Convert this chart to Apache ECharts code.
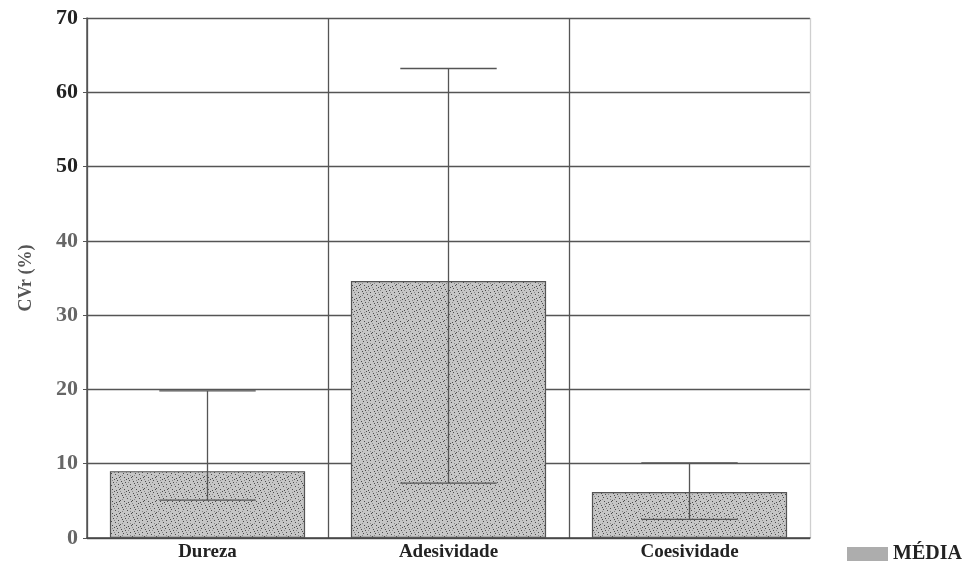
<!DOCTYPE html>
<html>
<head>
<meta charset="utf-8">
<script src="https://cdn.jsdelivr.net/npm/echarts@6/dist/echarts.min.js"></script>
<style>html,body{margin:0;padding:0;background:#fff}#c{width:967px;height:568px}</style>
</head>
<body>
<div id="c"></div>
<script>
const categories = ['Dureza', 'Adesividade', 'Coesividade'];
const media = [9.0, 34.6, 6.2];
const errLow = [5.1, 7.4, 2.5];
const errHigh = [19.8, 63.2, 10.1];
const yTicks = [0, 10, 20, 30, 40, 50, 60, 70];

// speckled fill texture (fixed tile)
function makeTexture() {
  const c = document.createElement('canvas');
  c.width = 12; c.height = 12;
  const g = c.getContext('2d');
  g.fillStyle = '#c6c6c6';
  g.fillRect(0, 0, 12, 12);
  const dots = [[1,1],[5,2],[9,0],[3,5],[7,6],[10,4],[0,8],[4,9],[8,10],[11,9],[6,11],[2,3]];
  g.fillStyle = '#4a4a4a';
  dots.forEach(p => g.fillRect(p[0], p[1], 1, 1));
  g.fillStyle = '#8a8a8a';
  [[2,7],[6,4],[10,7],[4,0],[8,2],[0,11]].forEach(p => g.fillRect(p[0], p[1], 1, 1));
  return c;
}

const chart = echarts.init(document.getElementById('c'));
const serif = '"Liberation Serif", "DejaVu Serif", serif';
chart.setOption({
  animation: false,
  backgroundColor: '#fff',
  grid: { left: 87, right: 157, top: 18, bottom: 30 },
  legend: {
    data: [{ name: 'MÉDIA', itemStyle: { color: '#adadad', borderWidth: 0 } }],
    left: 842, top: 539,
    icon: 'rect', itemWidth: 41, itemHeight: 14, itemGap: 8,
    textStyle: { fontFamily: serif, fontWeight: 'bold', fontSize: 20, color: '#222' }
  },
  xAxis: {
    type: 'category',
    data: categories,
    boundaryGap: true,
    axisLine: { lineStyle: { color: '#444', width: 1.5 } },
    axisTick: { show: false },
    splitLine: { show: true, lineStyle: { color: ['#555', '#555', '#555', '#cfcfcf'], width: 1.3 } },
    axisLabel: { fontFamily: serif, fontWeight: 'bold', fontSize: 19, color: '#222', margin: 5 }
  },
  yAxis: {
    type: 'value', min: 0, max: 70, interval: 10,
    name: 'CVr (%)', nameLocation: 'middle', nameGap: 52, nameRotate: 90,
    nameTextStyle: { fontFamily: serif, fontWeight: 'bold', fontSize: 18, color: '#555' },
    axisLine: { show: true, lineStyle: { color: '#555', width: 1.5 } },
    axisTick: { show: true, length: 4, lineStyle: { color: '#555' } },
    splitLine: { show: true, lineStyle: { color: '#555', width: 1.3 } },
    axisLabel: {
      fontFamily: serif, fontWeight: 'bold', fontSize: 22, margin: 9,
      formatter: v => yTicks.includes(v) ? (v >= 50 ? '{d|' + v + '}' : '{l|' + v + '}') : '',
      rich: {
        d: { fontFamily: serif, fontWeight: 'bold', fontSize: 22, color: '#222' },
        l: { fontFamily: serif, fontWeight: 'bold', fontSize: 22, color: '#666' }
      }
    }
  },
  series: [
    {
      name: 'MÉDIA', type: 'bar', data: media, barWidth: '81%',
      itemStyle: {
        color: { image: makeTexture(), repeat: 'repeat' },
        borderColor: '#555', borderWidth: 1.2
      },
      z: 2
    },
    {
      name: 'err', type: 'custom', z: 3,
      data: categories.map((c, i) => [i, errLow[i], errHigh[i]]),
      renderItem: function (params, api) {
        const x = api.value(0);
        const lo = api.coord([x, api.value(1)]);
        const hi = api.coord([x, api.value(2)]);
        const half = api.size([1, 0])[0] * 0.2;
        const st = { stroke: '#555', lineWidth: 1.3 };
        return {
          type: 'group',
          children: [
            { type: 'line', shape: { x1: lo[0], y1: lo[1], x2: hi[0], y2: hi[1] }, style: st },
            { type: 'line', shape: { x1: hi[0] - half, y1: hi[1], x2: hi[0] + half, y2: hi[1] }, style: st },
            { type: 'line', shape: { x1: lo[0] - half, y1: lo[1], x2: lo[0] + half, y2: lo[1] }, style: st }
          ]
        };
      }
    }
  ]
});
</script>
</body>
</html>
